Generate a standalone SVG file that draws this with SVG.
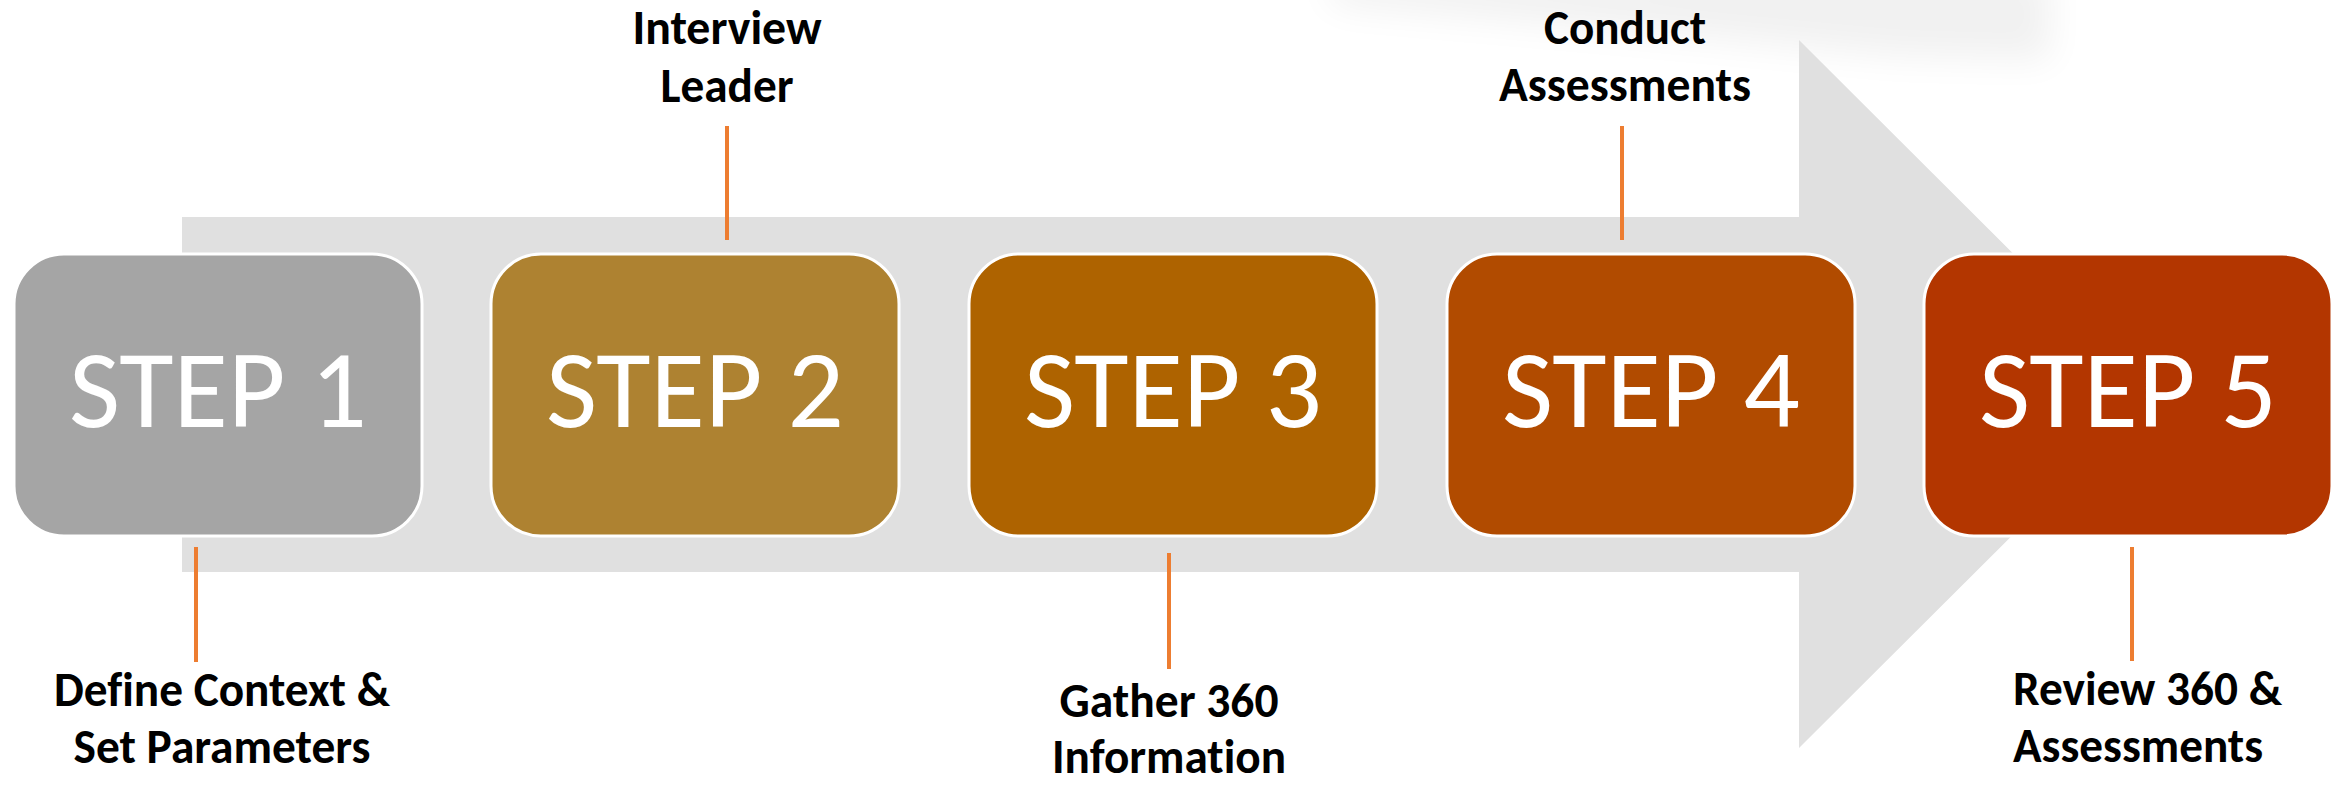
<svg xmlns="http://www.w3.org/2000/svg" width="2336" height="785" viewBox="0 0 2336 785">
  <defs>
    <filter id="soft" x="-20%" y="-100%" width="140%" height="300%">
      <feGaussianBlur stdDeviation="18"/>
    </filter>
    <style>
      .box { stroke: #FFFFFF; stroke-width: 3; }
      .step { font-family: Carlito, "Open Sans", sans-serif; font-size: 112px; fill: #FFFFFF; text-anchor: middle; }
      .label { font-family: Carlito, "Open Sans", sans-serif; font-weight: bold; font-size: 48px; fill: #000000; text-anchor: middle; font-variant-ligatures: none; }
      .label.left { text-anchor: start; }
      .tick { stroke: #ED7D31; stroke-width: 4; fill: none; }
    </style>
  </defs>

  <rect width="2336" height="785" fill="#FFFFFF"/>

  <!-- soft haze along the top edge -->
  <polygon points="1330,-30 2050,-30 2050,60 1900,56 1600,28 1330,4" fill="#000000" opacity="0.055" filter="url(#soft)"/>

  <!-- background process arrow -->
  <polygon id="flow-arrow" points="182,217 1799,217 1799,40 2154,394 1799,748 1799,572 182,572" fill="#E0E0E0"/>

  <!-- leader ticks between steps and captions -->
  <g id="connectors">
    <line class="tick" x1="196" y1="547" x2="196" y2="662"/>
    <line class="tick" x1="727" y1="126" x2="727" y2="240"/>
    <line class="tick" x1="1169" y1="553" x2="1169" y2="669"/>
    <line class="tick" x1="1622" y1="126" x2="1622" y2="240"/>
    <line class="tick" x1="2132" y1="547" x2="2132" y2="661"/>
  </g>

  <g id="step1">
    <rect class="box" x="14" y="254" width="408" height="282" rx="50" ry="50" fill="#A5A5A5"/>
    <text class="step" x="218" y="427" textLength="298" lengthAdjust="spacingAndGlyphs">STEP 1</text>
    <text class="label" x="222" y="706" textLength="336" lengthAdjust="spacingAndGlyphs">Define Context &amp;</text>
    <text class="label" x="222" y="763" textLength="297" lengthAdjust="spacingAndGlyphs">Set Parameters</text>
  </g>

  <g id="step2">
    <rect class="box" x="491" y="254" width="408" height="282" rx="50" ry="50" fill="#AE8231"/>
    <text class="step" x="695" y="427" textLength="298" lengthAdjust="spacingAndGlyphs">STEP 2</text>
    <text class="label" x="727" y="44" textLength="189" lengthAdjust="spacingAndGlyphs">Interview</text>
    <text class="label" x="727" y="102" textLength="133" lengthAdjust="spacingAndGlyphs">Leader</text>
  </g>

  <g id="step3">
    <rect class="box" x="969" y="254" width="408" height="282" rx="50" ry="50" fill="#AE6300"/>
    <text class="step" x="1173" y="427" textLength="298" lengthAdjust="spacingAndGlyphs">STEP 3</text>
    <text class="label" x="1169" y="717" textLength="219" lengthAdjust="spacingAndGlyphs">Gather 360</text>
    <text class="label" x="1169" y="773" textLength="234" lengthAdjust="spacingAndGlyphs">Information</text>
  </g>

  <g id="step4">
    <rect class="box" x="1447" y="254" width="408" height="282" rx="50" ry="50" fill="#B14B00"/>
    <text class="step" x="1651" y="427" textLength="298" lengthAdjust="spacingAndGlyphs">STEP 4</text>
    <text class="label" x="1625" y="44" textLength="162" lengthAdjust="spacingAndGlyphs">Conduct</text>
    <text class="label" x="1625" y="101" textLength="252" lengthAdjust="spacingAndGlyphs">Assessments</text>
  </g>

  <g id="step5">
    <rect class="box" x="1924" y="254" width="408" height="282" rx="50" ry="50" fill="#B33600"/>
    <text class="step" x="2128" y="427" textLength="298" lengthAdjust="spacingAndGlyphs">STEP 5</text>
    <text class="label left" x="2013" y="705" textLength="269" lengthAdjust="spacingAndGlyphs">Review 360 &amp;</text>
    <text class="label left" x="2013" y="762" textLength="250" lengthAdjust="spacingAndGlyphs">Assessments</text>
  </g>
</svg>
